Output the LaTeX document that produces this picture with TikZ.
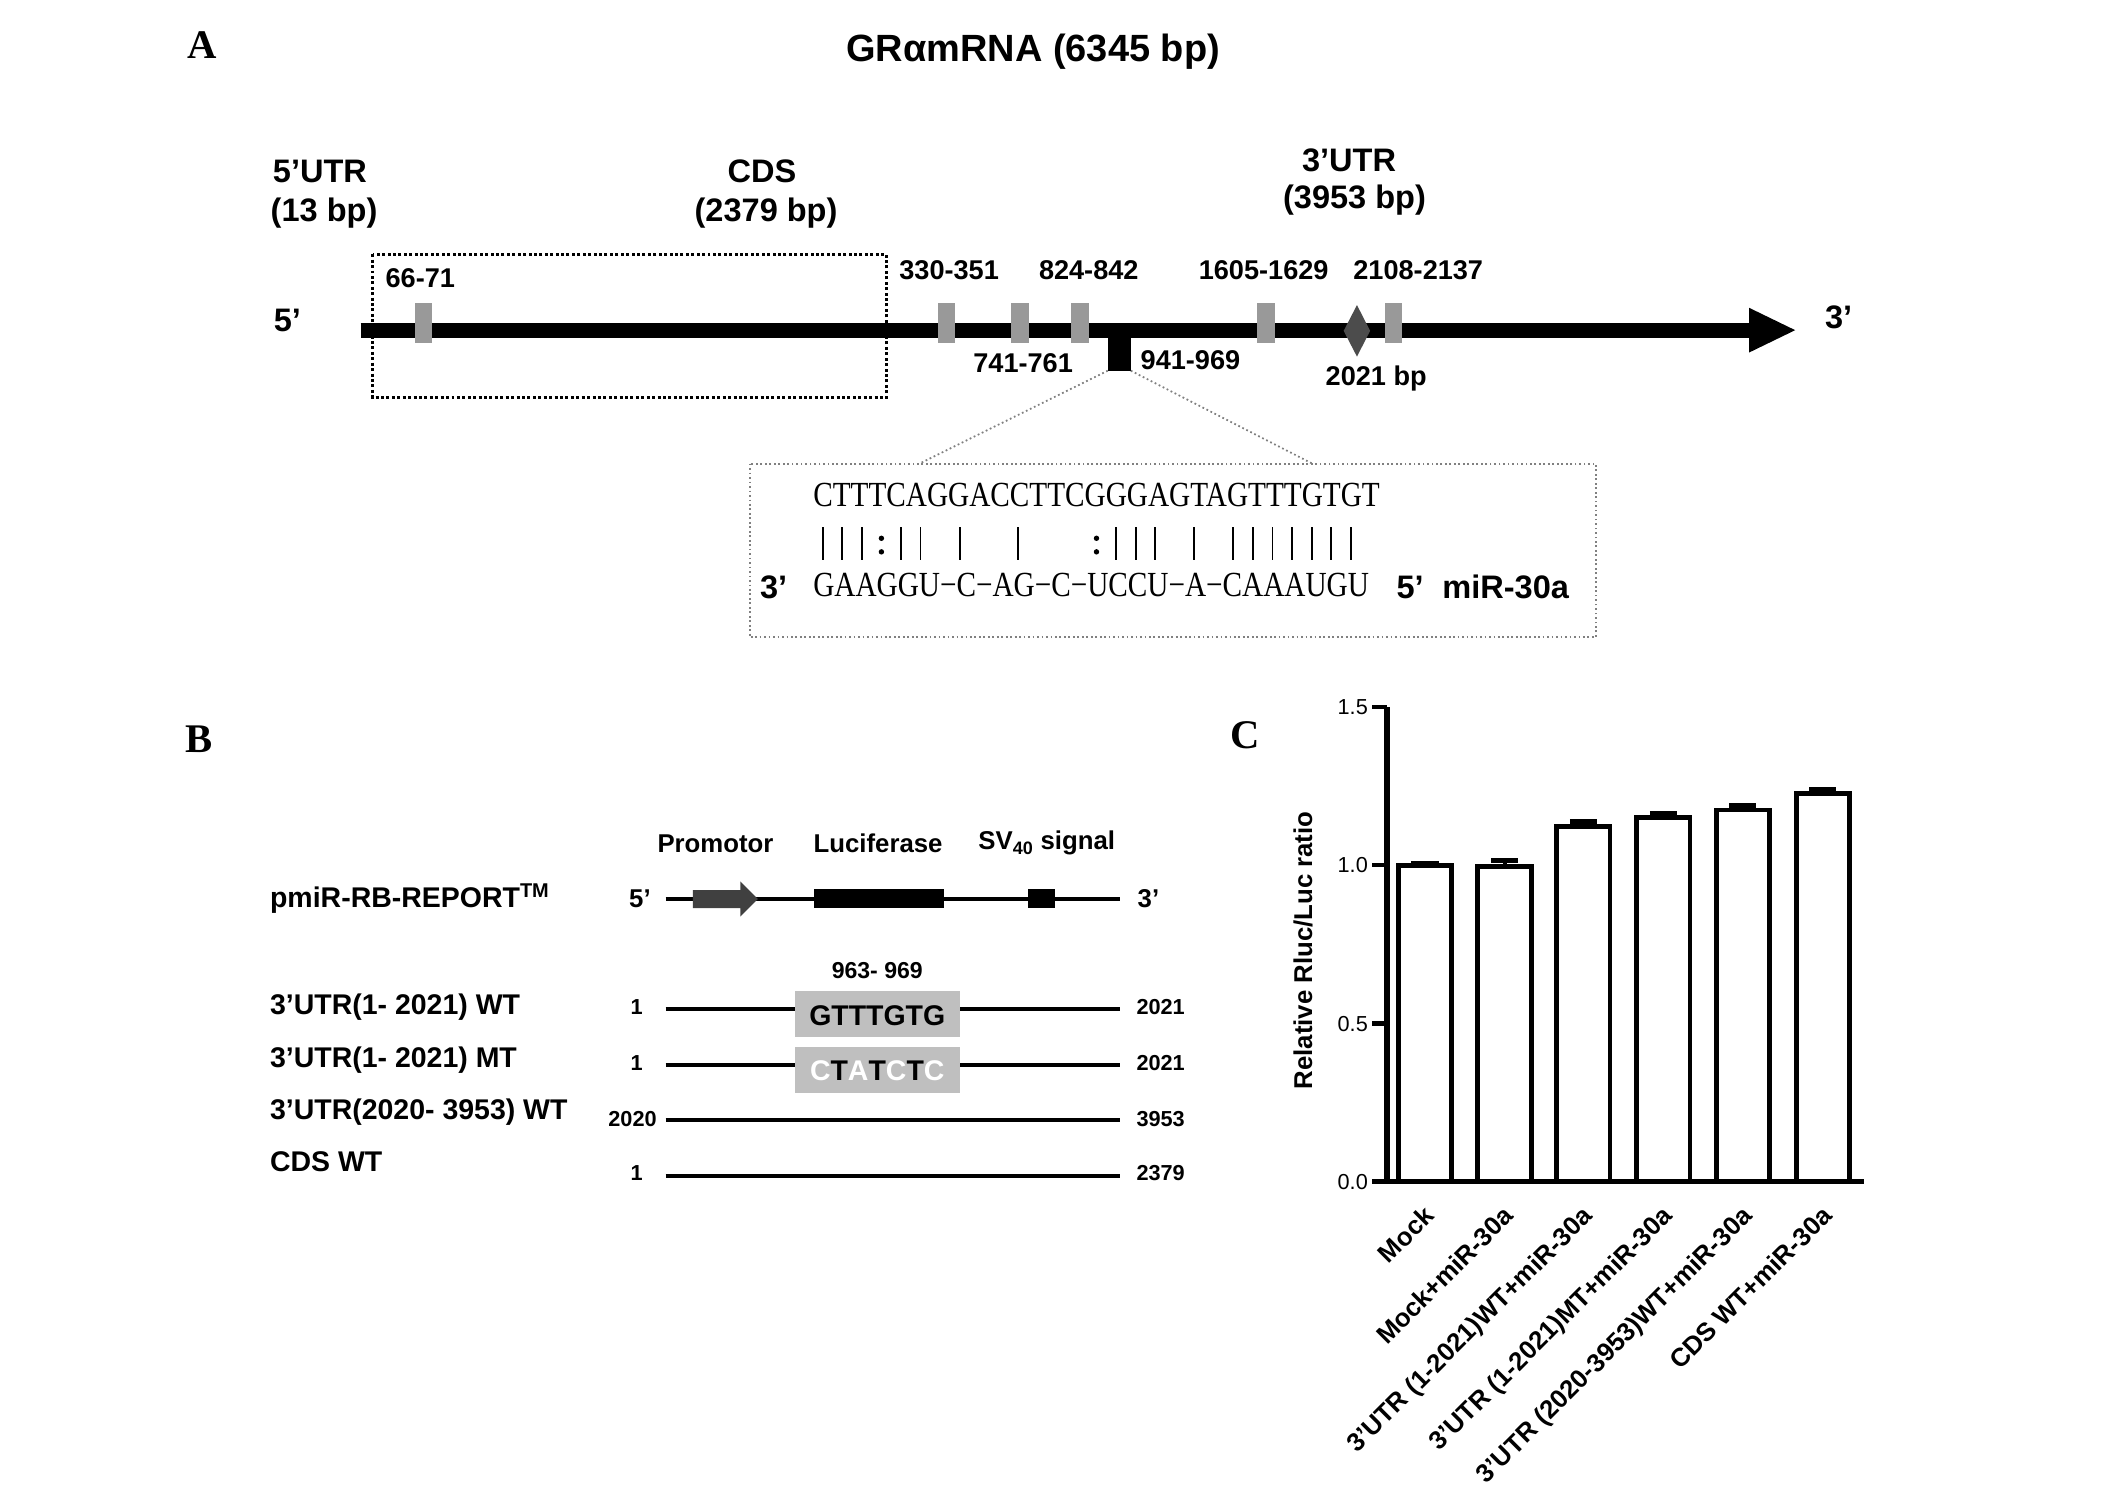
\documentclass[tikz,border=0pt]{standalone}
\usepackage{fontspec}
\setmainfont{Liberation Sans}
\newfontfamily\timesfont{Liberation Serif}
\newfontfamily\seqfont[FakeStretch=0.83]{Liberation Serif}
\newcommand\fsz[1]{\fontsize{#1}{#1}\selectfont}
\definecolor{sitegray}{gray}{0.6}
\definecolor{boxgray}{gray}{0.75}
\definecolor{promgray}{gray}{0.25}
\definecolor{diagray}{gray}{0.3}
\tikzset{
  panel/.style={font=\timesfont\bfseries\fsz{30}},
  big/.style={font=\bfseries\fsz{24}},
  poslbl/.style={font=\bfseries\fsz{20}},
  seq/.style={font=\seqfont\fsz{26},anchor=west,inner sep=0pt},
  hdr/.style={font=\bfseries\fsz{19}},
  rowlbl/.style={font=\bfseries\fsz{21},anchor=west,inner sep=0pt},
  num/.style={font=\bfseries\fsz{16}},
  ticklbl/.style={font=\fsz{16},anchor=east,inner sep=0pt},
  catlbl/.style={font=\bfseries\fsz{19},rotate=45,anchor=north east,inner sep=0pt},
  barbox/.style={draw,line width=3.5pt,fill=white},
}
\begin{document}
\begin{tikzpicture}[x=1pt,y=-1pt]
    \useasboundingbox (0,0) rectangle (1568,1098);
    % Panel letters.
        \node[panel] (labA) at (149,33) {A};
        \node[panel] (labB) at (147,545) {B};
        \node[panel] (labC) at (918,542) {C};
    % Panel A: the transcript.
        \node[font=\bfseries\fsz{28}] (title) at (762,38) {GRαmRNA (6345 bp)};
        \node[big] (utr5) at (236,126.6) {5’UTR};
        \node[big] (utr5len) at (239,157) {(13 bp)};
        \node[big] (cds) at (562,126.6) {CDS};
        \node[big] (cdslen) at (565,157) {(2379 bp)};
        \node[big] (utr3) at (995,118) {3’UTR};
        \node[big] (utr3len) at (999,147.5) {(3953 bp)};
        \node[big] (end5) at (212,236) {5’};
        \node[big] (end3) at (1356,234) {3’};
    % This draws the mRNA line and its arrow head.
        \draw[line width=11pt] (266,243.5) -- (1292,243.5);
        \fill (1290,227) -- (1324,243.5) -- (1290,260) -- cycle;
    % Gray boxes are the predicted sites, the diamond is the 2021 bp split.
        \foreach \x in {312.4,698,752.3,796.5,933.8,1027.7}
            \fill[sitegray] (\x-6.5,223.6) rectangle (\x+6.5,253);
        \fill[diagray] (1000.8,225) -- (1010.5,244) -- (1000.8,263) -- (991,244) -- cycle;
        \fill (817,243) rectangle (834,273.4);
        \draw[line width=2.2pt, dash pattern=on 2.2pt off 1.8pt] (275,187.5) rectangle (653.5,293.5);
        \node[poslbl] (s1) at (310,205) {66-71};
        \node[poslbl] (s2) at (700,199) {330-351};
        \node[poslbl] (s4) at (803,199) {824-842};
        \node[poslbl] (s6) at (932,199) {1605-1629};
        \node[poslbl] (s7) at (1046,199) {2108-2137};
        \node[poslbl] (s3) at (754.6,268) {741-761};
        \node[poslbl] (s5) at (878,265.5) {941-969};
        \node[poslbl] (split) at (1015,279) {2021 bp};
    % The pairing with miR-30a.
        \coordinate (zl) at (678,342);
        \coordinate (zr) at (968,342);
        \draw[gray, dotted, line width=1.3pt] (817,273.4) -- (zl);
        \draw[gray, dotted, line width=1.3pt] (834,273.4) -- (zr);
        \draw[gray, dotted, line width=1.3pt] (553,342) rectangle (1177,470);
        \node[seq] (topseq) at (599.6,365) {CTTTCAGGACCTTCGGGAGTAGTTTGTGT};
        \node[seq] (botseq) at (599.6,431.5) {GAAGGU−C−AG−C−UCCU−A−CAAAUGU};
        \foreach \i in {0,1,2,4,5,7,10,15,16,17,19,21,22,23,24,25,26,27}
            \draw[line width=1.4pt] ({599.6+14.42*(\i+0.5)},389) -- ++(0,24);
        \foreach \i in {3,14} {
            \fill ({599.6+14.42*(\i+0.5)},397) circle (2);
            \fill ({599.6+14.42*(\i+0.5)},407) circle (2);
        }
        \node[big] (mir3) at (570.6,433) {3’};
        \node[big] (mir5) at (1040,433) {5’};
        \node[big] (mirname) at (1110.5,433) {miR-30a};
    % Panel B: the reporter constructs.
        \node[hdr] (promo) at (527.7,622) {Promotor};
        \node[hdr] (luc) at (647.6,622) {Luciferase};
        \node[hdr] (sv) at (772,622) {SV\textsubscript{40} signal};
        \node[rowlbl] (pmir) at (199,663) {pmiR-RB-REPORT\textsuperscript{TM}};
        \node[hdr] (p5) at (472,663) {5’};
        \node[hdr] (p3) at (847,663) {3’};
        \draw[line width=3pt] (491,663) -- (826,663);
        \fill[promgray] (511,656.4) -- (546,656.4) -- (546,650) -- (559,663) -- (546,676) -- (546,669.7) -- (511,669.7) -- cycle;
        \fill (600,656) rectangle (696,670);
        \fill (758,656) rectangle (778,670);
        \node[num,font=\bfseries\fsz{17}] (site) at (647,716) {963- 969};
    % The four inserts.
        \node[rowlbl] (wt) at (199,743) {3’UTR(1- 2021) WT};
        \node[rowlbl] (mt) at (199,782) {3’UTR(1- 2021) MT};
        \node[rowlbl] (far) at (199,820) {3’UTR(2020- 3953) WT};
        \node[rowlbl] (cdswt) at (199,857) {CDS WT};
        \draw[line width=3pt] (491,744) -- (826,744);
        \draw[line width=3pt] (491,785.5) -- (826,785.5);
        \draw[line width=3pt] (491,826) -- (826,826);
        \draw[line width=3pt] (491,867) -- (826,867);
        \fill[boxgray] (586,731) rectangle (708,765);
        \fill[boxgray] (586,772) rectangle (708,806);
        \node[font=\bfseries\fsz{21}] (wtseq) at (647,749) {GTTTGTG};
        \node[font=\bfseries\fsz{21}] (mtseq) at (647,790) {\textcolor{white}{C}T\textcolor{white}{A}T\textcolor{white}{C}T\textcolor{white}{C}};
        \node[num] (wta) at (469.6,743) {1};
        \node[num] (wtb) at (856,743) {2021};
        \node[num] (mta) at (469.6,784) {1};
        \node[num] (mtb) at (856,784) {2021};
        \node[num] (fara) at (466.5,825) {2020};
        \node[num] (farb) at (856,825) {3953};
        \node[num] (cdsa) at (469.6,865) {1};
        \node[num] (cdsb) at (856,865) {2379};
    % Panel C: bars, then the axes on top.
        \foreach \x/\v/\e in {1031.2/1.000/0.006, 1089.9/0.996/0.020, 1148.0/1.122/0.016,
                              1207.0/1.152/0.012, 1265.7/1.175/0.013, 1324.7/1.228/0.012} {
            \draw[barbox] (\x,871.5) rectangle ({\x+39.5},{871.5-233.3*\v});
            \draw[line width=3pt] ({\x+19.75},{871.5-233.3*\v}) -- ({\x+19.75},{871.5-233.3*(\v+\e)});
            \draw[line width=4pt] ({\x+9.75},{871.5-233.3*(\v+\e)}) -- ({\x+29.75},{871.5-233.3*(\v+\e)});
        }
        \draw[line width=4pt] (1023,521.6) -- (1023,873.5);
        \draw[line width=4pt] (1012,871.5) -- (1375,871.5);
        \foreach \v in {1.5,1.0,0.5}
            \draw[line width=3pt] (1012,{871.5-233.3*\v}) -- (1023,{871.5-233.3*\v});
        \node[ticklbl] (t15) at (1009,521.6) {1.5};
        \node[ticklbl] (t10) at (1009,638.2) {1.0};
        \node[ticklbl] (t05) at (1009,754.9) {0.5};
        \node[ticklbl] (t00) at (1009,871.5) {0.0};
        \node[font=\bfseries\fsz{19},rotate=90] (ylab) at (961,701) {Relative Rluc/Luc ratio};
        \node[catlbl] (c1) at (1049,888) {Mock};
        \node[catlbl] (c2) at (1107.7,888) {Mock+miR-30a};
        \node[catlbl] (c3) at (1165.8,888) {3'UTR (1-2021)WT+miR-30a};
        \node[catlbl] (c4) at (1224.8,888) {3'UTR (1-2021)MT+miR-30a};
        \node[catlbl] (c5) at (1283.5,888) {3'UTR (2020-3953)WT+miR-30a};
        \node[catlbl] (c6) at (1342.5,888) {CDS WT+miR-30a};
\end{tikzpicture}
\end{document}
